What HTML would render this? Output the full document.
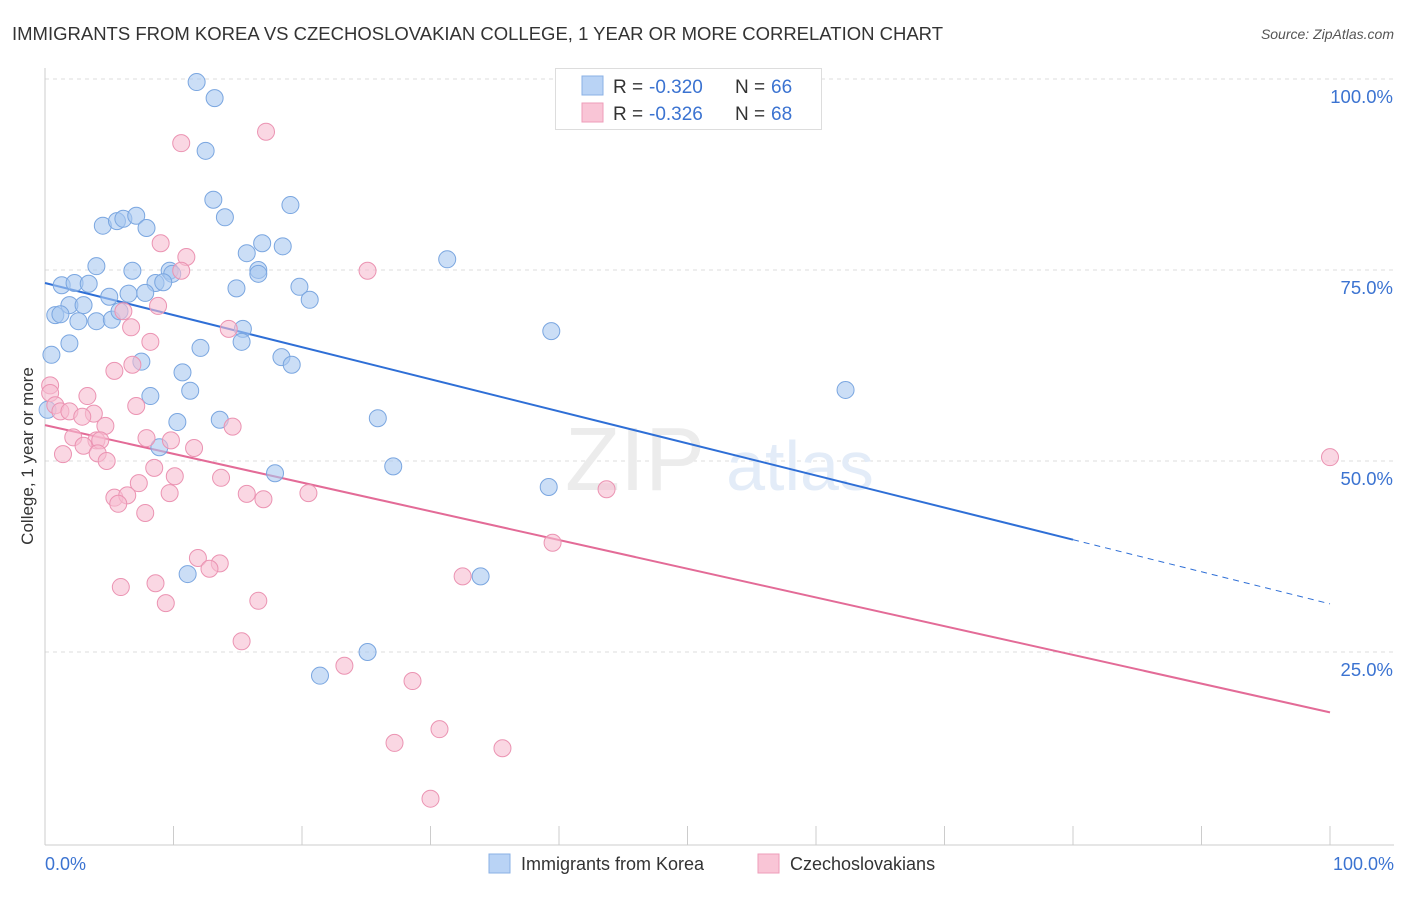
<!DOCTYPE html>
<html><head><meta charset="utf-8"><style>
body{margin:0;background:#fff;font-family:"Liberation Sans",sans-serif;}
svg text{font-family:"Liberation Sans",sans-serif;}
</style></head><body>
<svg id="chart" width="1406" height="892">
<text x="12" y="40" font-size="18.5" fill="#333">IMMIGRANTS FROM KOREA VS CZECHOSLOVAKIAN COLLEGE, 1 YEAR OR MORE CORRELATION CHART</text>
<text x="1394" y="39" font-size="14" fill="#555" font-style="italic" text-anchor="end">Source: ZipAtlas.com</text>
<g id="grid"></g>
<g id="axes"></g>
<text x="635" y="490" font-size="90" fill="#ececec" font-family="Liberation Serif" text-anchor="middle">ZIP</text>
<text x="800" y="490" font-size="70" fill="#e3ecf8" text-anchor="middle">atlas</text>
<g id="lines"></g>
<g id="pts"></g>
<g>
<rect x="555.5" y="68.5" width="266" height="61" fill="#fff" stroke="#ddd"/>
<rect x="582" y="76" width="21" height="19" fill="#b9d3f5" stroke="#8ab0e5"/>
<rect x="582" y="103" width="21" height="19" fill="#f9c5d6" stroke="#ee9db9"/>
<text x="613" y="93" font-size="19" fill="#333">R = <tspan x="649" fill="#3b73d1">-0.320</tspan></text>
<text x="735" y="93" font-size="19" fill="#333">N = <tspan x="771" fill="#3b73d1">66</tspan></text>
<text x="613" y="120" font-size="19" fill="#333">R = <tspan x="649" fill="#3b73d1">-0.326</tspan></text>
<text x="735" y="120" font-size="19" fill="#333">N = <tspan x="771" fill="#3b73d1">68</tspan></text>
</g>
<g>
<rect x="489" y="854" width="21" height="19" fill="#b9d3f5" stroke="#8ab0e5"/>
<text x="521" y="870" font-size="18" fill="#333">Immigrants from Korea</text>
<rect x="758" y="854" width="21" height="19" fill="#f9c5d6" stroke="#ee9db9"/>
<text x="790" y="870" font-size="18" fill="#333">Czechoslovakians</text>
</g>
<text transform="translate(33,456) rotate(-90)" font-size="17" fill="#333" text-anchor="middle">College, 1 year or more</text>
</svg>
<script>
const blueX=[11.8,13.2,12.5,13.1,14.0,19.1,4.5,5.6,6.1,7.1,7.9,15.7,16.9,18.5,31.3,4.0,6.8,9.7,9.9,16.6,16.6,1.3,2.3,3.4,8.6,9.2,14.9,19.8,20.6,5.0,6.5,7.8,1.9,3.0,0.8,1.2,2.6,4.0,5.2,5.8,15.4,15.3,39.4,1.9,0.5,12.1,7.5,18.4,19.2,10.7,11.3,8.2,62.3,25.9,10.3,13.6,8.9,27.1,17.9,39.2,11.1,33.9,25.1,21.4,0.2];
const blueY=[99.6,97.5,90.6,84.2,81.9,83.5,80.8,81.4,81.7,82.1,80.5,77.2,78.5,78.1,76.4,75.5,74.9,74.9,74.5,75.0,74.5,73.0,73.3,73.2,73.3,73.4,72.6,72.8,71.1,71.5,71.9,72.0,70.4,70.4,69.1,69.2,68.3,68.3,68.5,69.6,67.3,65.6,67.0,65.4,63.9,64.8,63.0,63.6,62.6,61.6,59.2,58.5,59.3,55.6,55.1,55.4,51.8,49.3,48.4,46.6,35.2,34.9,25.0,21.9,56.7];
const pinkX=[10.6,17.2,9.0,11.0,10.6,25.1,8.8,6.1,6.7,14.3,8.2,6.8,5.4,0.4,0.4,0.8,3.3,3.8,1.2,1.9,2.9,4.7,7.1,14.6,7.9,9.8,11.6,2.2,4.0,3.0,4.3,4.1,4.8,1.4,8.5,10.1,13.7,7.3,5.4,6.4,5.7,9.7,15.7,17.0,20.5,7.8,43.7,39.5,11.9,13.6,12.8,5.9,8.6,9.4,16.6,32.5,15.3,23.3,28.6,27.2,30.7,35.6,30.0,100];
const pinkY=[91.6,93.1,78.5,76.7,74.9,74.9,70.3,69.6,67.5,67.3,65.6,62.6,61.8,59.9,58.9,57.3,58.5,56.2,56.5,56.5,55.8,54.6,57.2,54.5,53.0,52.7,51.7,53.1,52.7,52.0,52.7,51.0,50.0,50.9,49.1,48.0,47.8,47.1,45.2,45.5,44.4,45.8,45.7,45.0,45.8,43.2,46.3,39.3,37.3,36.6,35.9,33.5,34.0,31.4,31.7,34.9,26.4,23.2,21.2,13.1,14.9,12.4,5.8,50.5];
const blueTrend=[73.3,31.3];
const pinkTrend=[54.7,17.1];
const yTicks=[100,75,50,25];
const yTickLabels=["100.0%","75.0%","50.0%","25.0%"];
const xTicks=[0,10,20,30,40,50,60,70,80,90,100];

const NS="http://www.w3.org/2000/svg";
const sx=v=>45+v*12.85, sy=v=>843-v*7.64;
function mk(tag,attrs,parent){const e=document.createElementNS(NS,tag);for(const k in attrs)e.setAttribute(k,attrs[k]);document.getElementById(parent).appendChild(e);return e;}
yTicks.forEach((t,i)=>{
 const l=mk('line',{x1:45,x2:1394,y1:sy(t),y2:sy(t),stroke:'#ddd','stroke-dasharray':'4,4'},'grid');
 
 
 const tx=mk('text',{x:1393,y:sy(t)+24,'font-size':18.5,fill:'#3b73d1','text-anchor':'end'},'axes');
 tx.textContent=yTickLabels[i];
 
 
});
mk('line',{x1:45,x2:45,y1:68,y2:845,stroke:'#ccc'},'axes');
mk('line',{x1:45,x2:1394,y1:845,y2:845,stroke:'#ccc'},'axes');
xTicks.forEach(t=>{
 const l=mk('line',{x1:sx(t),x2:sx(t),y1:826,y2:845,stroke:'#ccc'},'axes');
 
 
});
let t0=mk('text',{x:45,y:870,'font-size':18,fill:'#3b73d1'},'axes');t0.textContent='0.0%';


let t1=mk('text',{x:1394,y:870,'font-size':18,fill:'#3b73d1','text-anchor':'end'},'axes');t1.textContent='100.0%';



function pts(X,Y,fill,stroke,name){
 X.forEach((x,i)=>{
  const c=mk('circle',{cx:sx(x),cy:sy(Y[i]),r:8.5,fill:fill,'fill-opacity':0.6,stroke:stroke,'stroke-width':1},'pts');
  
  
 });
}
pts(blueX,blueY,'#a9c8f0','#7aa6e0','point-korea');
pts(pinkX,pinkY,'#f7bcd0','#eb93b2','point-czech');
const bAt=x=>blueTrend[0]+(blueTrend[1]-blueTrend[0])*x/100;
const pAt=x=>pinkTrend[0]+(pinkTrend[1]-pinkTrend[0])*x/100;
let bl=mk('line',{x1:sx(0),y1:sy(bAt(0)),x2:sx(80),y2:sy(bAt(80)),stroke:'#2f6fd6','stroke-width':2},'lines');


let bd=mk('line',{x1:sx(80),y1:sy(bAt(80)),x2:sx(100),y2:sy(bAt(100)),stroke:'#2f6fd6','stroke-width':1,'stroke-dasharray':'6,5'},'lines');


let pl=mk('line',{x1:sx(0),y1:sy(pAt(0)),x2:sx(100),y2:sy(pAt(100)),stroke:'#e36b97','stroke-width':2},'lines');


</script>
</body></html>
